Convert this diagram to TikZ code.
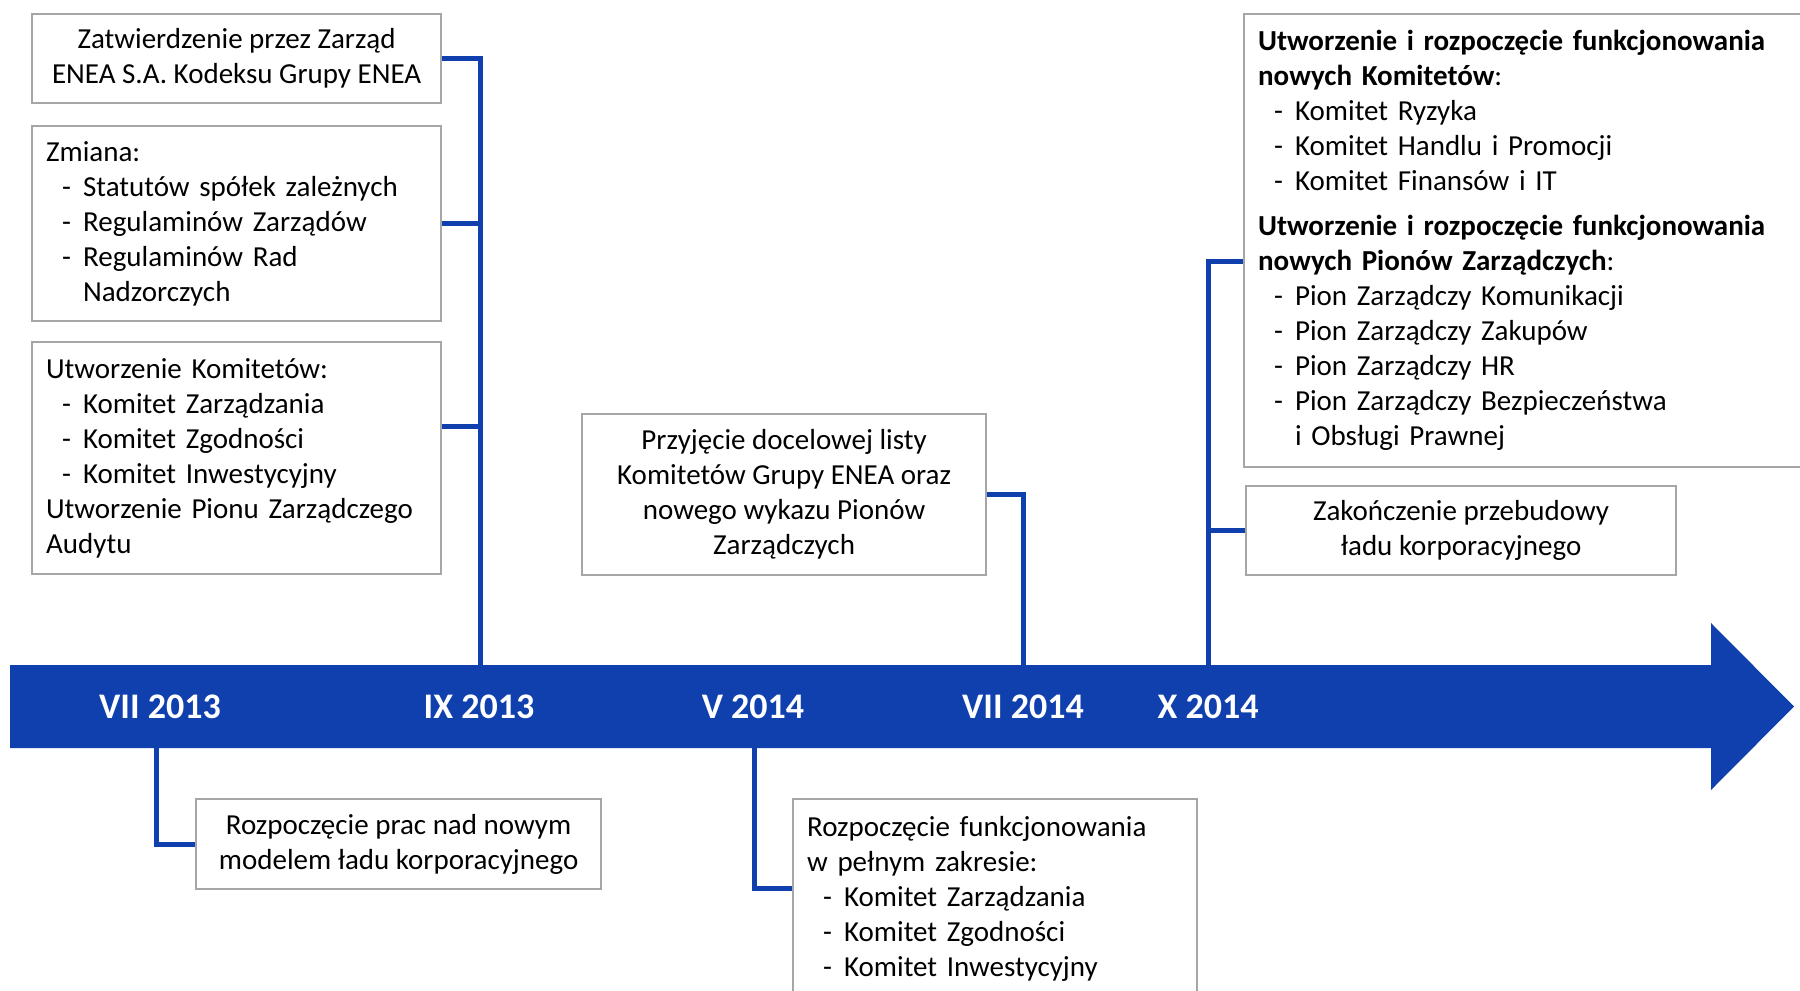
\documentclass[tikz,border=0pt]{standalone}
\usepackage{fontspec}
\setmainfont{Carlito}
\definecolor{osblue}{HTML}{1040AE}
\definecolor{ramka}{HTML}{A6A6A6}
\newcommand{\pkt}[1]{\hspace*{16pt}\makebox[21pt][l]{-}#1}
\tikzset{
  box/.style={draw=ramka, line width=2.2pt, fill=white, anchor=north west,
    inner xsep=14pt, inner ysep=0pt, font=\fontsize{29pt}{35pt}\selectfont},
  lbox/.style={box, align=left},
  cbox/.style={box, align=center, execute at begin node={\rule{0pt}{26pt}}},
  link/.style={draw=osblue, line width=5pt},
  data/.style={text=white, font=\fontsize{36pt}{40pt}\selectfont\bfseries}
}
\begin{document}
\begin{tikzpicture}[x=1pt,y=-1pt]
\useasboundingbox (0,0) rectangle (1800,991);
\clip (0,0) rectangle (1800,991);

% os czasu
\fill[osblue] (10,665) -- (1711,665) -- (1711,623) -- (1794,706.5)
  -- (1711,790) -- (1711,748) -- (10,748) -- cycle;

\node[data] (d1) at (160,706.5) {VII 2013};
\node[data] (d2) at (479,706.5) {IX 2013};
\node[data] (d3) at (753,706.5) {V 2014};
\node[data] (d4) at (1023,706.5) {VII 2014};
\node[data] (d5) at (1208,706.5) {X 2014};

\coordinate (k1) at (156,748);
\coordinate (k2) at (480,665);
\coordinate (k3) at (754,748);
\coordinate (k4) at (1023,665);
\coordinate (k5) at (1208,665);

% IX 2013
\node[cbox, minimum width=409pt, minimum height=89pt] (zat) at (31,13)
  {Zatwierdzenie przez Zarząd\\ENEA S.A. Kodeksu Grupy ENEA};
\node[lbox, text width=381pt, minimum height=195pt] (zmi) at (31,125)
  {Zmiana:\\\pkt{Statutów spółek zależnych}\\\pkt{Regulaminów Zarządów}\\
   \pkt{Regulaminów Rad}\\\hspace*{37pt}Nadzorczych};
\node[lbox, text width=381pt, minimum height=232pt] (utw) at (31,341)
  {Utworzenie Komitetów:\\\pkt{Komitet Zarządzania}\\\pkt{Komitet Zgodności}\\
   \pkt{Komitet Inwestycyjny}\\Utworzenie Pionu Zarządczego\\Audytu};

% VII 2013, V 2014
\node[cbox, minimum width=405pt, minimum height=90pt] (prac) at (195,798)
  {Rozpoczęcie prac nad nowym\\modelem ładu korporacyjnego};
\node[lbox, text width=376pt, minimum height=200pt] (funk) at (792,798)
  {Rozpoczęcie funkcjonowania\\w pełnym zakresie:\\\pkt{Komitet Zarządzania}\\
   \pkt{Komitet Zgodności}\\\pkt{Komitet Inwestycyjny}};

% VII 2014
\node[cbox, minimum width=404pt, minimum height=161pt] (przy) at (581,413)
  {Przyjęcie docelowej listy\\Komitetów Grupy ENEA oraz\\nowego wykazu Pionów\\Zarządczych};

% X 2014
\node[lbox, text width=560pt, minimum height=453pt] (kom) at (1243,13)
  {\textbf{Utworzenie i rozpoczęcie funkcjonowania}\\\textbf{nowych Komitetów}:\\
   \pkt{Komitet Ryzyka}\\\pkt{Komitet Handlu i Promocji}\\\pkt{Komitet Finansów i IT}\\[10pt]
   \textbf{Utworzenie i rozpoczęcie funkcjonowania}\\\textbf{nowych Pionów Zarządczych}:\\
   \pkt{Pion Zarządczy Komunikacji}\\\pkt{Pion Zarządczy Zakupów}\\\pkt{Pion Zarządczy HR}\\
   \pkt{Pion Zarządczy Bezpieczeństwa}\\\hspace*{37pt}i Obsługi Prawnej};
\node[cbox, minimum width=430pt, minimum height=89pt] (zak) at (1245,485)
  {Zakończenie przebudowy\\ładu korporacyjnego};

\coordinate (u2) at ([yshift=-85pt]utw.north east);
\coordinate (u3) at ([yshift=-90pt]funk.north west);
\coordinate (u5) at ([yshift=-248pt]kom.north west);

\draw[link] (zat.east) -| (k2);
\draw[link] (zmi.east) -- (zmi.east -| k2);
\draw[link] (u2) -- (u2 -| k2);
\draw[link] (k1) |- (prac.west);
\draw[link] (k3) |- (u3);
\draw[link] (przy.east) -| (k4);
\draw[link] (u5) -| (k5);
\draw[link] (zak.west) -- (zak.west -| k5);
\end{tikzpicture}
\end{document}
